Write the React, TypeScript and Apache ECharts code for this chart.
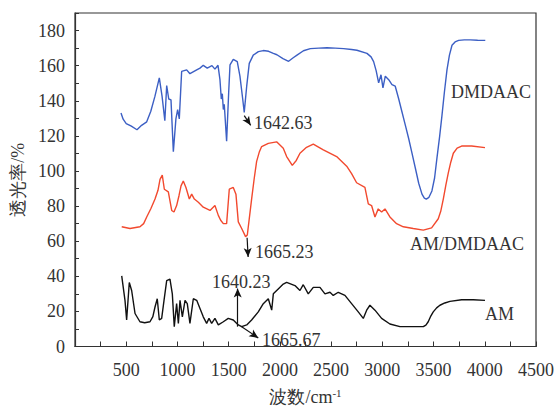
import React, { useEffect, useRef } from "react";
import * as echarts from "echarts";

// Wavenumbers (cm^-1) and transmittance (%)
const dmdaacWave = [449, 470, 500, 550, 605, 650, 700, 740, 780, 823, 850, 877, 895, 915, 937, 960, 985, 1002, 1018, 1041, 1090, 1122, 1188, 1220, 1252, 1291, 1337, 1366, 1396, 1415, 1428, 1438, 1448, 1457, 1480, 1500, 1513, 1545, 1584, 1610, 1637, 1652, 1676, 1701, 1740, 1790, 1838, 1890, 1936, 1971, 2030, 2085, 2130, 2167, 2230, 2297, 2380, 2460, 2540, 2622, 2700, 2752, 2850, 2890, 2915, 2940, 2964, 2987, 3006, 3029, 3062, 3094, 3126, 3160, 3192, 3225, 3257, 3290, 3322, 3355, 3387, 3410, 3429, 3455, 3484, 3510, 3533, 3560, 3582, 3606, 3631, 3655, 3680, 3710, 3745, 3800, 3858, 3930, 4005];
const dmdaacT = [133, 129.5, 127, 125.5, 123.5, 126, 128, 134, 142.5, 153, 142.5, 128.6, 148.7, 141, 140.5, 111, 129.7, 135, 129.7, 156.7, 157.6, 155.4, 157.6, 158.6, 160.2, 158.6, 160, 158, 160.2, 152, 141, 144, 135, 138, 117, 144.6, 160.4, 163.6, 162.3, 154, 141, 133.4, 148.3, 161.3, 166, 168, 168.6, 168.2, 167, 166.2, 164, 162.5, 164.5, 166, 168.5, 169.7, 170, 170.2, 170, 169.7, 169.2, 168.8, 167, 165, 162.3, 157, 150.2, 154.8, 147.4, 154, 152, 149.2, 148.3, 141, 133.6, 126, 118.5, 110, 101.7, 93, 86.8, 84.5, 84, 85, 88.6, 96, 107.3, 120, 131.5, 145, 157.6, 166, 171.6, 173.5, 174.4, 174.7, 174.7, 174.5, 174.4];

const copolyWave = [456, 537, 634, 670, 700, 740, 781, 810, 830, 852, 872, 911, 944, 966, 992, 1015, 1035, 1057, 1083, 1116, 1139, 1165, 1204, 1252, 1318, 1366, 1399, 1422, 1448, 1480, 1506, 1545, 1571, 1594, 1627, 1665, 1682, 1724, 1750, 1773, 1800, 1822, 1887, 1968, 2033, 2066, 2121, 2160, 2196, 2260, 2326, 2424, 2554, 2652, 2700, 2749, 2830, 2863, 2895, 2928, 2960, 2993, 3026, 3074, 3139, 3205, 3302, 3400, 3481, 3546, 3570, 3595, 3620, 3644, 3668, 3693, 3730, 3774, 3872, 4002];
const copolyT = [68.2, 67.2, 68.2, 70, 73.8, 78.5, 84, 89, 95.2, 97.6, 89.6, 88.1, 77.5, 76.6, 80.3, 85.9, 91.5, 94.3, 90.6, 84, 86.8, 84, 82.2, 79.4, 77.5, 80.3, 74.7, 71.9, 70, 70, 89.6, 90.6, 86.8, 71, 67.2, 62.6, 63.5, 84, 96, 105.5, 111, 113.9, 115.7, 116.6, 112.9, 108.2, 103.2, 106, 110.1, 113.5, 115.3, 112, 108.2, 102.7, 98.5, 93.3, 90.6, 81.2, 80.3, 73.8, 78.4, 76.6, 78.4, 73.8, 70, 68.2, 67.2, 66.3, 67.6, 72.8, 77, 84, 92, 98.9, 105, 110.1, 113, 114.2, 114.2, 113.3];

const amWave = [456, 488, 504, 530, 553, 586, 634, 680, 732, 760, 781, 803, 823, 846, 869, 895, 927, 950, 969, 992, 1009, 1025, 1048, 1074, 1096, 1122, 1155, 1188, 1220, 1252, 1285, 1308, 1334, 1366, 1399, 1448, 1496, 1545, 1594, 1627, 1676, 1724, 1789, 1838, 1887, 1920, 1936, 1984, 2033, 2066, 2147, 2196, 2228, 2277, 2326, 2391, 2440, 2489, 2521, 2570, 2635, 2700, 2765, 2814, 2847, 2879, 2928, 2993, 3074, 3172, 3302, 3400, 3425, 3448, 3470, 3497, 3530, 3562, 3610, 3660, 3774, 3888, 4002];
const amT = [40.2, 26.3, 15.1, 36.5, 31.9, 18.8, 14.1, 13.5, 14.1, 17, 22.5, 27.2, 15.1, 16, 26.3, 37.5, 38.4, 30, 11.3, 24.4, 13.2, 26.3, 16.9, 26.3, 24.4, 13.2, 27.2, 26.3, 21.6, 16.9, 13.2, 16, 13.2, 16, 12.3, 14.1, 16, 15.1, 12.3, 11.3, 12.3, 15.1, 19.7, 24.4, 27.2, 20.7, 30, 32.8, 35.6, 36.5, 34.7, 31.9, 35.2, 30, 33.7, 33.7, 30, 30.9, 29.1, 30.9, 29.1, 24.4, 19.7, 16, 20.7, 23.5, 20.7, 16, 12.8, 11.3, 11.3, 11.3, 12.2, 14.1, 17, 19.7, 22, 23.5, 24.8, 25.7, 26.6, 26.6, 26.3];

const seriesNames = ["DMDAAC", "AM/DMDAAC", "AM"];
const peakLabels = ["1642.63", "1665.23", "1640.23", "1665.67"];

const FONT = "'Liberation Serif', 'Times New Roman', serif";
const TXT = "#333";

const zip = (xs: number[], ys: number[]) => xs.map((x, i) => [x, ys[i]]);

export default function App() {
  const ref = useRef<HTMLDivElement>(null);
  useEffect(() => {
    if (!ref.current) return;
    const chart = echarts.init(ref.current, undefined, { renderer: "svg" });
    const arrowLine = (a: number[], b: number[]) => ({
      type: "line",
      silent: true,
      symbol: ["none", "arrow"],
      symbolSize: [6, 9],
      lineStyle: { color: "#111", width: 1.2, type: "solid" },
      label: { show: false },
      data: [[{ coord: a }, { coord: b }]],
    });
    const txt = (s: string, x: number, y: number) => ({
      type: "text",
      left: x,
      top: y - 10,
      style: { text: s, font: `18px ${FONT}`, fill: TXT },
      silent: true,
    });
    chart.setOption({
      animation: false,
      grid: { left: 75, top: 13, right: 21, bottom: 59, show: true, borderColor: "#333", borderWidth: 1.2 },
      xAxis: {
        type: "value",
        min: 0,
        max: 4500,
        interval: 250,
        name: "波数/cm{sup|-1}",
        nameLocation: "middle",
        nameGap: 41,
        nameTextStyle: {
          fontFamily: FONT,
          fontSize: 18,
          color: TXT,
          rich: { sup: { fontSize: 11, verticalAlign: "top", padding: [0, 0, 8, 0], fontFamily: FONT, color: TXT } },
        },
        axisLine: { lineStyle: { color: "#333", width: 1.2 } },
        axisTick: { inside: true, length: 5, lineStyle: { color: "#333" } },
        axisLabel: {
          fontFamily: FONT,
          fontSize: 18,
          color: TXT,
          margin: 14,
          formatter: (v: number) => (v > 0 && v % 500 === 0 ? String(v) : ""),
        },
        splitLine: { show: false },
      },
      yAxis: {
        type: "value",
        min: 0,
        max: 190,
        interval: 10,
        name: "透光率/%",
        nameLocation: "middle",
        nameRotate: 90,
        nameGap: 41,
        nameTextStyle: { fontFamily: FONT, fontSize: 18, color: TXT },
        axisLine: { lineStyle: { color: "#333", width: 1.2 } },
        axisTick: { inside: true, length: 4, lineStyle: { color: "#333" } },
        axisLabel: {
          fontFamily: FONT,
          fontSize: 18,
          color: TXT,
          margin: 10,
          formatter: (v: number) => (v % 20 === 0 && v <= 180 ? String(v) : ""),
        },
        splitLine: { show: false },
      },
      series: [
        {
          name: seriesNames[0],
          type: "line",
          data: zip(dmdaacWave, dmdaacT),
          showSymbol: false,
          lineStyle: { color: "#3c5fc4", width: 1.4 },
          markLine: arrowLine([1652, 131.5], [1715, 126]),
        },
        {
          name: seriesNames[1],
          type: "line",
          data: zip(copolyWave, copolyT),
          showSymbol: false,
          lineStyle: { color: "#f2492e", width: 1.4 },
          markLine: arrowLine([1680, 62], [1690, 51]),
        },
        {
          name: seriesNames[2],
          type: "line",
          data: zip(amWave, amT),
          showSymbol: false,
          lineStyle: { color: "#111", width: 1.4 },
          markLine: arrowLine([1588, 11.3], [1588, 33]),
        },
        {
          name: "arrow2",
          type: "line",
          data: [],
          markLine: arrowLine([1627, 11.3], [1789, 4.9]),
        },
      ],
      graphic: [
        txt(peakLabels[0], 254, 124),
        txt(peakLabels[1], 255, 253),
        txt(peakLabels[2], 212, 283),
        txt(peakLabels[3], 262, 341),
        txt(seriesNames[0], 451, 93),
        txt(seriesNames[1], 410, 245),
        txt(seriesNames[2], 485, 315),
      ],
    });
    return () => chart.dispose();
  }, []);
  return <div ref={ref} style={{ position: "fixed", left: 0, top: 0, width: 557, height: 411, background: "#fff" }} />;
}
